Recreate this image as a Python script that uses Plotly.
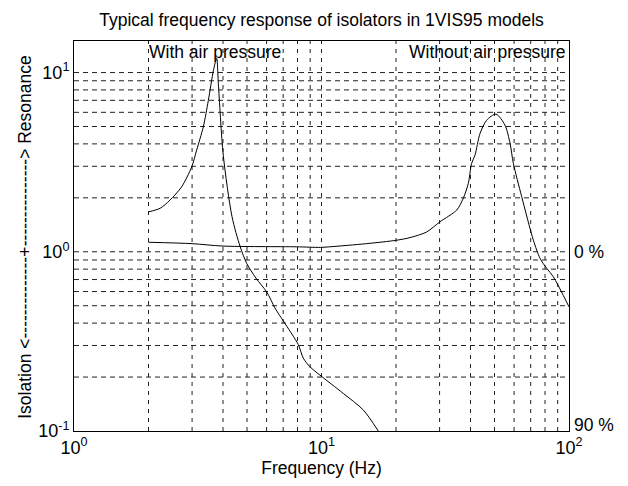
import numpy as np
import plotly.graph_objects as go

# --- data ---
freq_air = [2.0, 2.23, 2.44, 2.72, 2.99, 3.13, 3.33, 3.49, 3.66, 3.77, 3.83, 4.01, 4.35, 4.69,
            4.99, 5.43, 6.01, 6.49, 7.01, 8.06, 8.44, 8.99, 9.86, 12.25, 14.75, 16.96]
resp_air = [1.67, 1.75, 1.94, 2.30, 2.98, 3.69, 4.98, 7.0, 10.3, 12.0, 8.7, 3.46, 1.57, 1.07,
            0.86, 0.714, 0.596, 0.485, 0.411, 0.303, 0.255, 0.228, 0.205, 0.162, 0.131, 0.1]

freq_noair = [2.0, 3.0, 4.0, 7.9, 9.9, 10.8, 15.2, 20.1, 22.8, 26.6, 30.1, 35.2, 37.4, 39.2, 40.4,
              41.7, 43.7, 46.5, 50.7, 55.1, 57.8, 59.6, 64.4, 71.8, 76.4, 81.3, 86.4, 100.0]
resp_noair = [1.13, 1.11, 1.076, 1.066, 1.058, 1.066, 1.11, 1.16, 1.20, 1.29, 1.47, 1.71, 1.99, 2.41,
              3.11, 3.46, 4.57, 5.42, 5.86, 5.09, 4.02, 3.11, 2.03, 1.16, 0.918, 0.808, 0.726, 0.493]

x_tickvals = [1, 10, 100]
x_ticktext = ["10<sup>0</sup>", "10<sup>1</sup>", "10<sup>2</sup>"]
y_tickvals = [0.1, 1, 10]
y_ticktext = ["10<sup>-1</sup>", "10<sup>0</sup>", "10<sup>1</sup>"]

x_grid = [v * d for d in (1, 10) for v in range(2, 10)] + [10]
y_grid = [v * d for d in (0.1, 1) for v in range(2, 10)] + [1, 10]

FONT = "Liberation Sans, Arial, Helvetica, sans-serif"
FS = 17.5

fig = go.Figure()

for xv in x_grid:
    fig.add_trace(go.Scatter(x=[xv, xv], y=[0.1, 15], mode="lines",
                             line=dict(color="#222", width=1, dash="4px,5px"),
                             hoverinfo="skip", showlegend=False))
for yv in y_grid:
    fig.add_trace(go.Scatter(x=[1, 100], y=[yv, yv], mode="lines",
                             line=dict(color="#222", width=1, dash="5px,4px"),
                             hoverinfo="skip", showlegend=False))

fig.add_trace(go.Scatter(x=freq_air, y=resp_air, mode="lines",
                         line=dict(color="black", width=1, shape="spline", smoothing=0.8),
                         showlegend=False))
fig.add_trace(go.Scatter(x=freq_noair, y=resp_noair, mode="lines",
                         line=dict(color="black", width=1, shape="spline", smoothing=0.8),
                         showlegend=False))

fig.update_layout(
    width=628, height=486,
    margin=dict(l=74, r=59, t=41, b=55),
    paper_bgcolor="white", plot_bgcolor="white",
    font=dict(family=FONT, size=FS, color="black"),
    title=dict(text="Typical frequency response of isolators in 1VIS95 models",
               x=0.512, xanchor="center", y=1 - 20 / 486, yanchor="middle",
               font=dict(size=FS, family=FONT)),
    showlegend=False,
)
fig.update_xaxes(type="log", range=[0, 2], showgrid=False, zeroline=False,
                 showline=True, linecolor="black", linewidth=1, mirror=True,
                 tickvals=x_tickvals, ticktext=x_ticktext, ticks="",
                 tickfont=dict(size=18),
                 title=dict(text="Frequency (Hz)", font=dict(size=FS), standoff=3))
fig.update_yaxes(type="log", range=[-1, np.log10(15)], showgrid=False, zeroline=False,
                 showline=True, linecolor="black", linewidth=1, mirror=True,
                 tickvals=y_tickvals, ticktext=y_ticktext, ticks="",
                 tickfont=dict(size=18))

YX = -49 / 495
fig.add_annotation(text="+", textangle=-90, xref="paper", yref="y", x=YX, y=0,
                   xanchor="center", yanchor="middle", showarrow=False, font=dict(size=FS))
fig.add_annotation(text="-" * 15 + "> Resonance", textangle=-90, xref="paper", yref="y",
                   x=YX, y=0, xanchor="center", yanchor="bottom", yshift=3,
                   showarrow=False, font=dict(size=FS))
fig.add_annotation(text="Isolation <" + "-" * 14, textangle=-90, xref="paper", yref="y",
                   x=YX, y=0, xanchor="center", yanchor="top", yshift=-3,
                   showarrow=False, font=dict(size=FS))

fig.add_annotation(text="With air pressure", xref="x", yref="paper",
                   x=np.log10(2), y=1, xanchor="left", yanchor="top", yshift=1, xshift=-2,
                   showarrow=False, font=dict(size=FS))
fig.add_annotation(text="Without air pressure", xref="paper", yref="paper",
                   x=1, y=1, xanchor="right", yanchor="top", yshift=1, xshift=-1,
                   showarrow=False, font=dict(size=FS))
fig.add_annotation(text="0 %", xref="paper", yref="y",
                   x=1, y=0, xanchor="left", yanchor="middle", xshift=3,
                   showarrow=False, font=dict(size=FS))
fig.add_annotation(text="90 %", xref="paper", yref="y",
                   x=1, y=-1, xanchor="left", yanchor="middle", xshift=3, yshift=6,
                   showarrow=False, font=dict(size=FS))

fig.write_html("out.html", config={"displayModeBar": False},
               post_script="document.body.style.margin='0';")
